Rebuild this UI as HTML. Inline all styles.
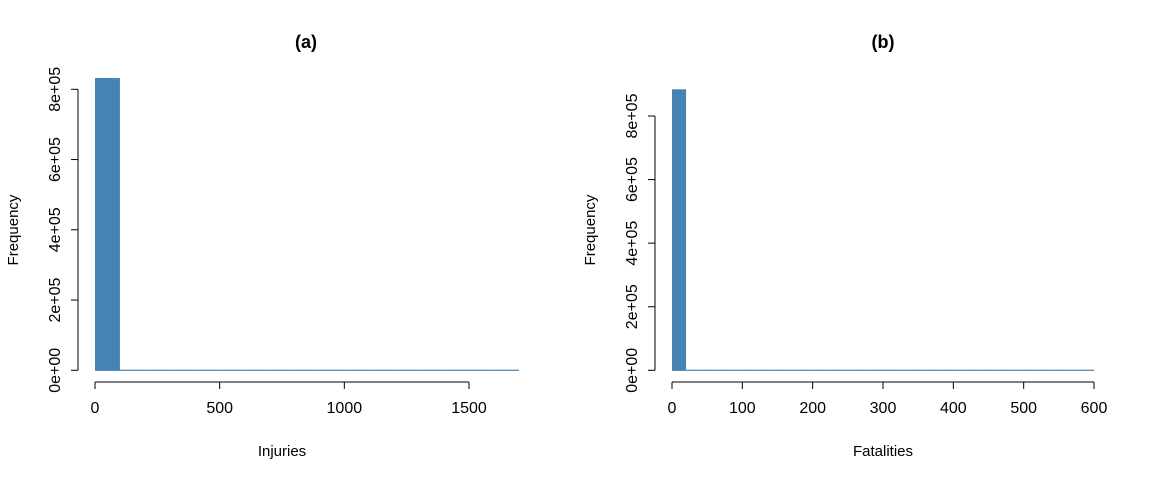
<!DOCTYPE html>
<html><head><meta charset="utf-8"><style>
html,body{margin:0;padding:0;background:#fff;}
svg{display:block;font-family:"Liberation Sans",Arial,sans-serif;}
</style></head><body>
<svg id="chart" width="1152" height="480"></svg>
<script>
// Panel (a) Injuries
const injBreaks = [0,100,200,300,400,500,600,700,800,900,1000,1100,1200,1300,1400,1500,1600,1700];
const injCounts = [832000,60,20,10,5,3,2,1,1,0,0,1,0,0,0,0,1];
const injXTicks = [0,500,1000,1500];
const injYTicks = [0,200000,400000,600000,800000];
const injYLabels = ["0e+00","2e+05","4e+05","6e+05","8e+05"];
// Panel (b) Fatalities
const fatBreaks = [0,20,40,60,80,100,120,140,160,180,200,220,240,260,280,300,320,340,360,380,400,420,440,460,480,500,520,540,560,580,600];
const fatCounts = [884000,30,10,5,2,1,1,0,0,1,0,0,0,0,0,0,0,0,0,0,0,0,0,0,0,0,0,0,0,1];
const fatXTicks = [0,100,200,300,400,500,600];
const fatYTicks = [0,200000,400000,600000,800000];
const fatYLabels = ["0e+00","2e+05","4e+05","6e+05","8e+05"];

const NS="http://www.w3.org/2000/svg";
const svg=document.getElementById('chart');
function mk(tag,attrs,parent){const e=document.createElementNS(NS,tag);for(const k in attrs)e.setAttribute(k,attrs[k]);(parent||svg).appendChild(e);return e;}

function panel(p){
  const g=mk('g',{});
  
  
  const xs=v=>p.x0+(v-p.xmin)*(p.x1-p.x0)/(p.xmax-p.xmin);
  const ys=v=>p.y0-(v)*(p.y0-p.y1)/p.ymax;
  for(let i=0;i<p.counts.length;i++){
    const a=xs(p.breaks[i]),b=xs(p.breaks[i+1]),t=ys(p.counts[i]);
    const r=mk('rect',{x:a,y:Math.min(t,p.y0-0.6),width:b-a,height:Math.max(p.y0-t,0.6)+0.6,fill:'#4682b4'},g);
    
    
  }
  const axY=382;
  const xa=mk('g',{},g);
  
  
  mk('line',{x1:xs(p.xticks[0]),x2:xs(p.xticks[p.xticks.length-1]),y1:axY,y2:axY,stroke:'#000'},xa);
  p.xticks.forEach(v=>{
    mk('line',{x1:xs(v),x2:xs(v),y1:axY,y2:axY+7,stroke:'#000'},xa);
    const t=mk('text',{x:xs(v),y:413,'font-size':16,'text-anchor':'middle'},xa);t.textContent=v;
    
    
  });
  const axX=p.axX;
  const ya=mk('g',{},g);
  
  
  mk('line',{x1:axX,x2:axX,y1:ys(p.yticks[0]),y2:ys(p.yticks[p.yticks.length-1]),stroke:'#000'},ya);
  p.yticks.forEach((v,i)=>{
    mk('line',{x1:axX,x2:axX-7,y1:ys(v),y2:ys(v),stroke:'#000'},ya);
    const t=mk('text',{x:0,y:0,'font-size':16,'text-anchor':'middle',transform:`translate(${axX-18},${ys(v)}) rotate(-90)`},ya);
    t.textContent=p.ylabels[i];
    
    
  });
  const xt=mk('text',{x:(p.x0+xs(p.xticks[p.xticks.length-1]))/2,y:456,'font-size':15,'text-anchor':'middle'},g);
  xt.textContent=p.xlabel;
  
  
  const yt=mk('text',{x:0,y:0,'font-size':15,'text-anchor':'middle',transform:`translate(${axX-60},230) rotate(-90)`},g);
  yt.textContent='Frequency';
  
  
  const tt=mk('text',{x:p.titleX,y:48,'font-size':18,'font-weight':'bold','text-anchor':'middle'},g);
  tt.textContent=p.title;
  
  
}
panel({name:'panel-injuries',breaks:injBreaks,counts:injCounts,xticks:injXTicks,yticks:injYTicks,ylabels:injYLabels,
  xmin:0,xmax:1500,x0:95,x1:469,ymax:800000,y0:370.3,y1:89.3,axX:78,xlabel:'Injuries',title:'(a)',titleX:306});
panel({name:'panel-fatalities',breaks:fatBreaks,counts:fatCounts,xticks:fatXTicks,yticks:fatYTicks,ylabels:fatYLabels,
  xmin:0,xmax:600,x0:672,x1:1094,ymax:800000,y0:370.3,y1:116,axX:655,xlabel:'Fatalities',title:'(b)',titleX:883});
</script>
</body></html>
